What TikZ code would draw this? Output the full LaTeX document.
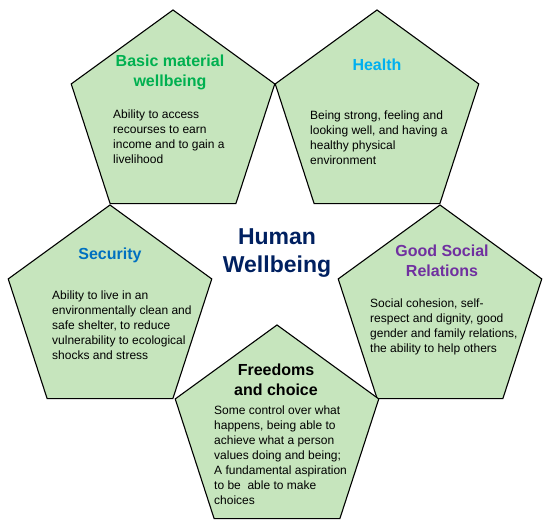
\documentclass[tikz,border=0pt]{standalone}
\usepackage{fontspec}
\setmainfont{Liberation Sans}
\usetikzlibrary{shapes.geometric}
\definecolor{pentfill}{RGB}{198,229,189}
\definecolor{cgreen}{RGB}{0,176,80}
\definecolor{cblue}{RGB}{0,176,240}
\definecolor{cdblue}{RGB}{0,112,192}
\definecolor{cpurple}{RGB}{112,48,160}
\definecolor{cnavy}{RGB}{0,32,96}
\begin{document}
\begin{tikzpicture}[x=1pt,y=-1pt,
  pent/.style={regular polygon, regular polygon sides=5, minimum size=214pt,
    inner sep=0pt, outer sep=0pt, draw=black, line width=1.1pt, fill=pentfill},
  ttl/.style={anchor=north, align=center, inner sep=0pt,
    font=\fontsize{16}{19.5}\selectfont\bfseries},
  body/.style={anchor=north west, align=left, inner sep=0pt,
    font=\fontsize{12}{15}\selectfont},
  center/.style={anchor=north, align=center, inner sep=0pt, text=cnavy,
    font=\fontsize{23}{28}\selectfont\bfseries}]
\useasboundingbox (0,0) rectangle (550,529);
% pentagons
\node[pent] (p1) at (173,117) {};
\node[pent] (p2) at (377,117) {};
\node[pent] (p3) at (110,312) {};
\node[pent] (p4) at (440,312) {};
\node[pent] (p5) at (277,432) {};
% titles
\node[ttl, text=cgreen] (t1) at (170,55) {Basic material\\wellbeing};
\node[ttl, text=cblue] (t2) at (377,59) {Health};
\node[ttl, text=cdblue] (t3) at (110,248) {Security};
\node[ttl, text=cpurple] (t4) at (442,245) {Good Social\\Relations};
\node[ttl, text=black] (t5) at (276,364) {Freedoms\\and choice};
% bodies
\node[body] (b1) at (113,110) {Ability to access\\recourses to earn\\income and to gain a\\livelihood};
\node[body] (b2) at (310,111) {Being strong, feeling and\\looking well, and having a\\healthy physical\\environment};
\node[body] (b3) at (52,291) {Ability to live in an\\environmentally clean and\\safe shelter, to reduce\\vulnerability to ecological\\shocks and stress};
\node[body] (b4) at (370,299) {Social cohesion, self-\\respect and dignity, good\\gender and family relations,\\the ability to help others};
\node[body] (b5) at (214,406) {Some control over what\\happens, being able to\\achieve what a person\\values doing and being;\\A fundamental aspiration\\to be\ \ able to make\\choices};
% centre
\node[center] (hw) at (277,228) {Human\\Wellbeing};
\end{tikzpicture}
\end{document}
